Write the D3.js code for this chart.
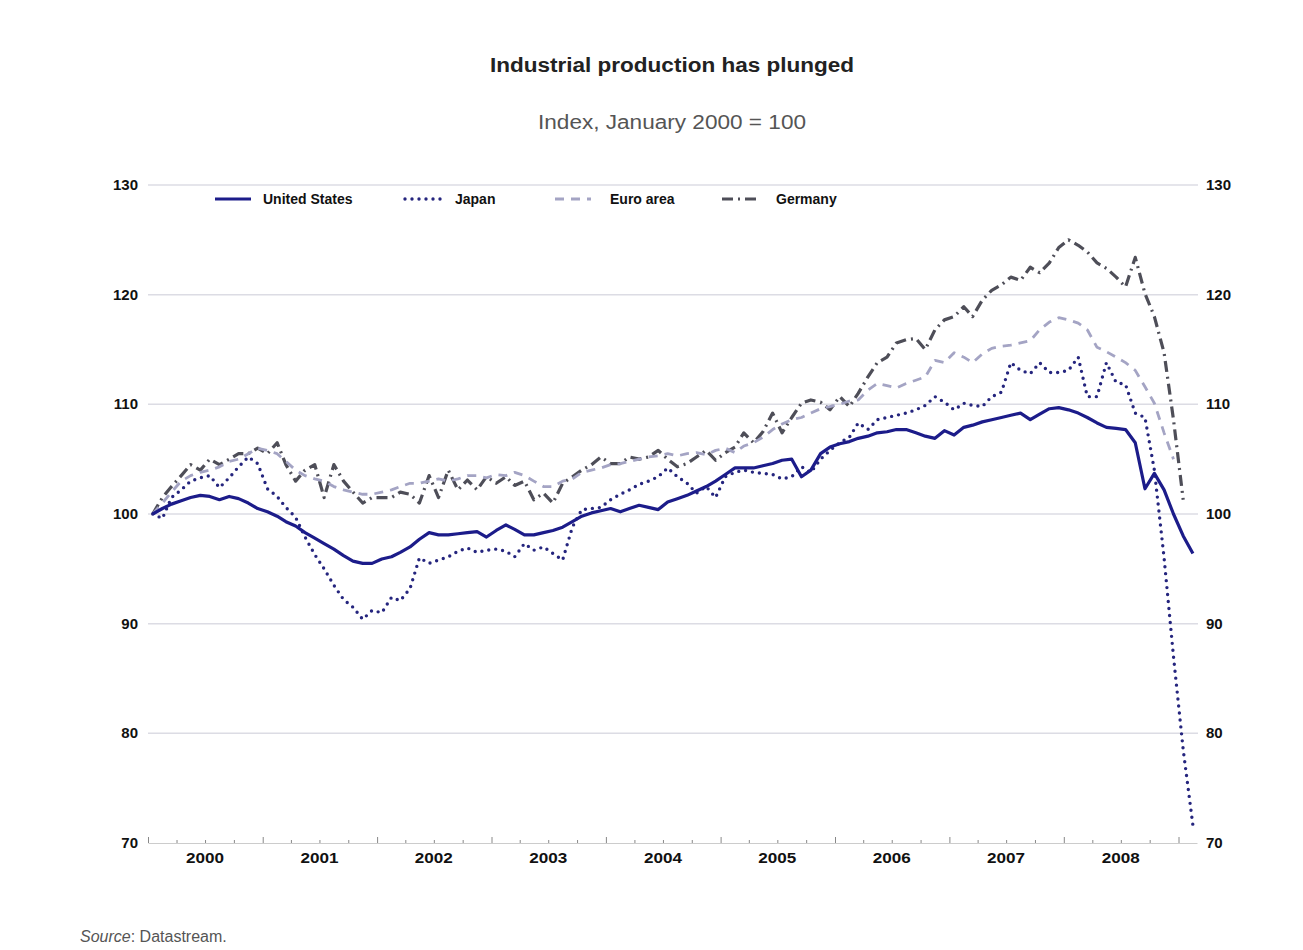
<!DOCTYPE html>
<html>
<head>
<meta charset="utf-8">
<script src="https://cdn.jsdelivr.net/npm/d3@7"></script>
<style>
  body { margin: 0; background: #fff; }
  svg text { font-family: "Liberation Sans", Arial, sans-serif; }
</style>
</head>
<body>
<svg id="chart" width="1303" height="950"></svg>
<script>
// monthly values, Jan 2000 = index 0
var us = [100.0,100.5,100.9,101.2,101.5,101.7,101.6,101.3,101.6,101.4,101.0,100.5,
  100.2,99.8,99.3,98.9,98.3,97.8,97.3,96.8,96.2,95.7,95.5,95.5,
  95.9,96.1,96.5,97.0,97.7,98.3,98.1,98.1,98.2,98.3,98.4,97.9,
  98.5,99.0,98.6,98.1,98.1,98.3,98.5,98.8,99.3,99.8,100.1,100.3,
  100.5,100.2,100.5,100.8,100.6,100.4,101.1,101.4,101.7,102.1,102.5,103.0,
  103.6,104.2,104.2,104.2,104.4,104.6,104.9,105.0,103.4,104.0,105.5,106.1,
  106.4,106.6,106.9,107.1,107.4,107.5,107.7,107.7,107.4,107.1,106.9,107.6,
  107.2,107.9,108.1,108.4,108.6,108.8,109.0,109.2,108.6,109.1,109.6,109.7,
  109.5,109.2,108.8,108.3,107.9,107.8,107.7,106.5,102.3,103.7,102.2,100.0,
  98.0,96.4];
var japan = [100.0,99.6,101.5,102.2,103.0,103.3,103.5,102.4,103.3,104.3,105.2,104.6,
  102.3,101.6,100.6,99.7,97.9,96.3,95.0,93.5,92.2,91.5,90.4,91.2,
  91.0,92.4,92.1,93.2,96.0,95.5,95.8,96.1,96.6,96.9,96.5,96.7,
  96.8,96.6,96.1,97.3,96.7,97.0,96.4,95.8,98.8,100.4,100.5,100.6,
  101.3,101.8,102.2,102.7,103.0,103.4,104.2,103.4,102.8,101.9,102.5,101.5,
  103.4,103.8,104.0,103.8,103.7,103.6,103.2,103.4,104.3,103.8,105.0,105.8,
  106.5,107.0,108.3,107.7,108.6,108.8,109.0,109.2,109.5,109.9,110.7,110.2,
  109.5,110.1,109.9,109.8,110.7,111.1,113.8,113.1,112.8,113.8,112.9,112.9,
  113.1,114.3,110.7,110.7,113.8,112.0,111.8,109.2,108.8,104.0,96.0,87.0,
  78.5,71.6];
var euroArea = [100.0,101.0,102.0,103.0,103.5,103.8,104.0,104.3,104.8,105.0,105.5,106.0,
  105.8,105.5,104.8,104.0,103.5,103.2,103.0,102.5,102.2,102.0,101.8,101.8,
  102.0,102.2,102.5,102.8,102.8,103.0,103.2,103.0,103.2,103.5,103.5,103.3,
  103.6,103.5,103.8,103.5,103.0,102.5,102.5,103.0,103.2,103.8,104.0,104.2,
  104.5,104.6,104.8,105.0,105.2,105.3,105.5,105.3,105.5,105.6,105.4,105.8,
  106.0,105.6,106.2,106.5,107.0,107.7,108.2,108.6,108.8,109.2,109.6,109.8,
  110.0,110.3,110.4,111.3,111.9,111.7,111.5,111.9,112.2,112.5,114.0,113.8,
  114.7,114.3,113.8,114.6,115.1,115.3,115.4,115.6,115.8,116.8,117.5,117.9,
  117.7,117.4,116.8,115.2,114.8,114.3,113.8,113.1,111.6,110.1,107.4,105.0];
var germany = [100.0,101.5,102.5,103.5,104.5,104.0,105.0,104.5,105.0,105.5,105.5,106.0,
  105.5,106.5,104.5,103.0,104.0,104.5,101.5,104.5,103.0,102.0,101.0,101.5,
  101.5,101.5,102.0,101.8,101.0,103.5,101.5,104.0,102.2,103.1,102.2,103.4,
  102.8,103.4,102.6,103.0,101.3,101.9,101.0,102.8,103.4,104.0,104.5,105.2,
  104.6,104.6,105.2,105.0,105.2,105.8,105.0,104.3,104.6,105.2,105.8,104.9,
  105.6,106.1,107.4,106.5,107.5,109.2,107.4,108.8,110.1,110.4,110.2,109.5,
  110.7,109.8,111.0,112.5,113.8,114.3,115.6,115.9,116.0,115.0,116.8,117.7,
  118.0,118.9,118.0,119.5,120.4,120.9,121.6,121.3,122.5,122.0,122.9,124.3,
  125.0,124.5,123.9,122.9,122.4,121.6,120.7,123.4,120.1,118.0,114.7,108.6,
  101.3];

var seriesNames = ["United States", "Japan", "Euro area", "Germany"];
var yTicks = [70, 80, 90, 100, 110, 120, 130];
var years = [2000, 2001, 2002, 2003, 2004, 2005, 2006, 2007, 2008];

var svg = d3.select("#chart");

var x = d3.scaleTime()
  .domain([new Date(2000, 0, 1), new Date(2009, 2, 1)])
  .range([148, 1197]);
var y = d3.scaleLinear().domain([70, 130]).range([843, 185]);

function toPoints(arr) {
  return arr.map(function(v, i) { return {d: new Date(2000, i, 16), v: v}; });
}

// title
svg.append("text").attr("x", 672).attr("y", 72)
  .attr("text-anchor", "middle").attr("font-size", 20).attr("font-weight", "bold")
  .attr("textLength", 364).attr("lengthAdjust", "spacingAndGlyphs")
  .attr("fill", "#222").text("Industrial production has plunged");
svg.append("text").attr("x", 672).attr("y", 129)
  .attr("text-anchor", "middle").attr("font-size", 20)
  .attr("textLength", 268).attr("lengthAdjust", "spacingAndGlyphs")
  .attr("fill", "#555").text("Index, January 2000 = 100");

// grid
svg.append("g").selectAll("line").data(yTicks.filter(function(t){ return t > 70; }))
  .enter().append("line")
  .attr("x1", 148).attr("x2", 1198)
  .attr("y1", function(d){ return y(d); }).attr("y2", function(d){ return y(d); })
  .attr("stroke", "#dcdce4").attr("stroke-width", 1.5);

// y labels left & right
svg.append("g").selectAll("text").data(yTicks).enter().append("text")
  .attr("x", 138).attr("y", function(d){ return y(d) + 5; })
  .attr("text-anchor", "end").attr("font-size", 15).attr("font-weight", "bold")
  .attr("fill", "#111").text(function(d){ return d; });
svg.append("g").selectAll("text").data(yTicks).enter().append("text")
  .attr("x", 1206).attr("y", function(d){ return y(d) + 5; })
  .attr("text-anchor", "start").attr("font-size", 15).attr("font-weight", "bold")
  .attr("fill", "#111").text(function(d){ return d; });

// x axis
var quarterTicks = d3.timeMonth.every(3).range(new Date(2000, 0, 1), new Date(2009, 1, 1));
var xAxis = d3.axisBottom(x).tickValues(quarterTicks).tickSizeInner(-3).tickSizeOuter(0)
  .tickFormat("");
var gx = svg.append("g").attr("transform", "translate(0,843)").call(xAxis);
gx.select(".domain").attr("stroke", "#ccc");
gx.selectAll(".tick line").attr("stroke", "#888")
  .attr("y2", function(d){ return d.getMonth() === 0 ? -6 : -3; });

svg.append("g").selectAll("text").data(years).enter().append("text")
  .attr("x", function(d){ return x(new Date(d, 6, 1)); }).attr("y", 863)
  .attr("text-anchor", "middle").attr("font-size", 15).attr("font-weight", "bold")
  .attr("textLength", 38).attr("lengthAdjust", "spacingAndGlyphs")
  .attr("fill", "#111").text(function(d){ return d; });

// lines
var styles = [
  {data: us, color: "#1c1c8a", width: 3.2, dash: null, cap: "butt"},
  {data: japan, color: "#25257e", width: 3.4, dash: "0,7", cap: "round"},
  {data: euroArea, color: "#a4a4c4", width: 2.8, dash: "9,7", cap: "butt"},
  {data: germany, color: "#4e4e58", width: 3.2, dash: "11,5,2,5", cap: "butt"}
];
var line = d3.line().x(function(p){ return x(p.d); }).y(function(p){ return y(p.v); });

[3, 2, 1, 0].forEach(function(i) {
  var s = styles[i];
  svg.append("path").datum(toPoints(s.data))
    .attr("d", line).attr("fill", "none")
    .attr("stroke", s.color).attr("stroke-width", s.width)
    .attr("stroke-dasharray", s.dash).attr("stroke-linecap", s.cap)
    .attr("stroke-linejoin", "round");
});

// legend
var legX = [215, 405, 555, 722];
var legTextX = [263, 455, 610, 776];
var leg = svg.append("g");
seriesNames.forEach(function(name, i) {
  var s = styles[i];
  leg.append("line").attr("x1", legX[i]).attr("x2", legX[i] + 36)
    .attr("y1", 199).attr("y2", 199)
    .attr("stroke", s.color).attr("stroke-width", s.width)
    .attr("stroke-dasharray", s.dash).attr("stroke-linecap", s.cap);
  leg.append("text").attr("x", legTextX[i]).attr("y", 204)
    .attr("font-size", 14).attr("font-weight", "bold").attr("fill", "#111")
    .text(name);
});

// source
var src = svg.append("text").attr("x", 80).attr("y", 942).attr("font-size", 16).attr("fill", "#555");
src.append("tspan").attr("font-style", "italic").text("Source");
src.append("tspan").text(": Datastream.");
</script>
</body>
</html>
